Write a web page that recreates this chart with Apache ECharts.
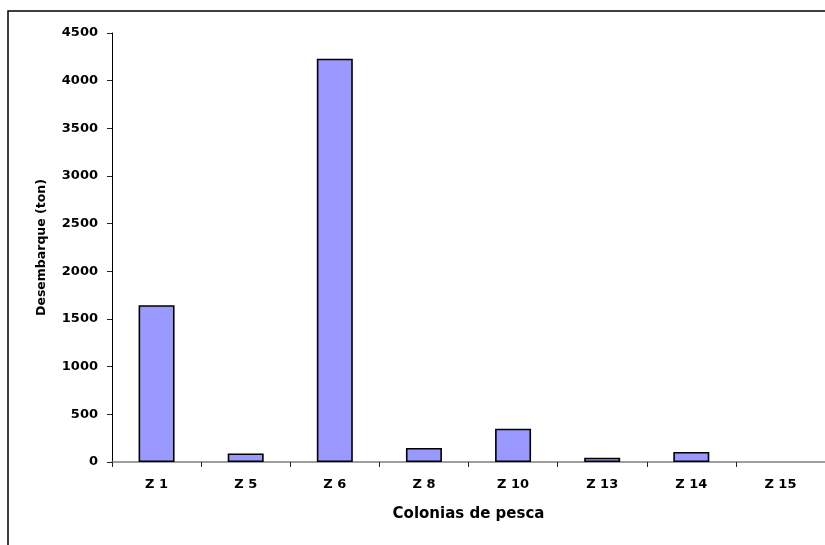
<!DOCTYPE html>
<html>
<head>
<meta charset="utf-8">
<script src="https://cdn.jsdelivr.net/npm/echarts@6/dist/echarts.min.js"></script>
<style>
  html, body { margin: 0; padding: 0; background: #fff; }
  #chart { width: 825px; height: 545px; }
</style>
</head>
<body>
<div id="chart"></div>
<script>
// Desembarque por colonia de pesca (ton)
const categories = ['Z 1', 'Z 5', 'Z 6', 'Z 8', 'Z 10', 'Z 13', 'Z 14', 'Z 15'];
const landings = [1645, 90, 4230, 147, 349, 45, 105, 0];
const yTicks = [0, 500, 1000, 1500, 2000, 2500, 3000, 3500, 4000, 4500];

const FONT = 'DejaVu Sans';
const chart = echarts.init(document.getElementById('chart'), null, { renderer: 'canvas' });

chart.setOption({
  backgroundColor: '#ffffff',
  animation: false,
  graphic: [{
    type: 'rect',
    shape: { x: 8, y: 11, width: 830, height: 560 },
    style: { fill: 'none', stroke: '#000', lineWidth: 1.5 },
    silent: true,
    z: 0
  }],
  grid: { left: 112, top: 33, width: 714, bottom: 83, containLabel: false },
  xAxis: {
    type: 'category',
    data: categories,
    boundaryGap: true,
    name: 'Colonias de pesca',
    nameLocation: 'middle',
    nameGap: 45,
    nameTextStyle: { fontFamily: FONT, fontWeight: 'bold', fontSize: 15, color: '#000' },
    axisLine: { lineStyle: { color: '#808080', width: 1.5 } },
    axisTick: { show: true, length: 5, inside: false, alignWithLabel: false, lineStyle: { color: '#222', width: 1 } },
    axisLabel: { fontFamily: FONT, fontWeight: 'bold', fontSize: 13, color: '#000', margin: 16, interval: 0 },
    splitLine: { show: false }
  },
  yAxis: {
    type: 'value',
    min: yTicks[0],
    max: yTicks[yTicks.length - 1],
    interval: yTicks[1] - yTicks[0],
    name: 'Desembarque (ton)',
    nameLocation: 'middle',
    nameGap: 64,
    nameTextStyle: { fontFamily: FONT, fontWeight: 'bold', fontSize: 12.5, color: '#000' },
    axisLine: { show: true, lineStyle: { color: '#000', width: 1 } },
    axisTick: { show: true, length: 5, inside: false, lineStyle: { color: '#222', width: 1 } },
    axisLabel: {
      fontFamily: FONT, fontWeight: 'bold', fontSize: 13, color: '#000', margin: 14,
      formatter: v => String(v)
    },
    splitLine: { show: false }
  },
  series: [{
    type: 'bar',
    data: landings.map(v => v === 0
      ? { value: v, itemStyle: { borderWidth: 0 } }
      : v),
    barWidth: 36,
    itemStyle: { color: '#9999FF', borderColor: '#000', borderWidth: 1.6 },
    z: 3
  }]
});
</script>
</body>
</html>
